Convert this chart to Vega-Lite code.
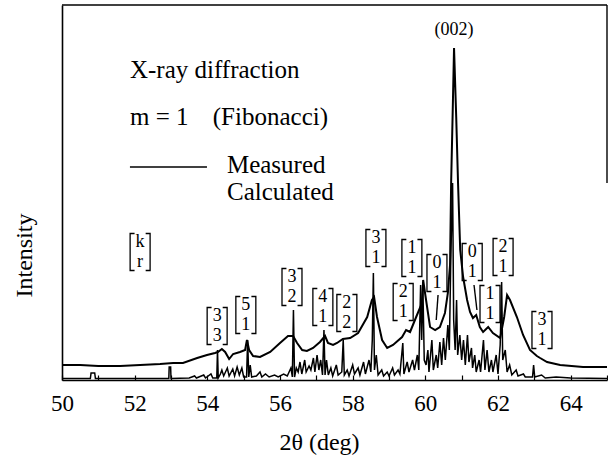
{
  "$schema": "https://vega.github.io/schema/vega-lite/v6.json",
  "width": 545,
  "height": 375,
  "autosize": "none",
  "padding": {"left": 62, "top": 5, "right": 1, "bottom": 78},
  "background": "white",
  "config": {"view": {"stroke": null}, "font": "Liberation Serif, Times New Roman, serif"},
  "datasets": {
    "measured": [
      {"x": 50.0, "y": 15}, {"x": 50.5, "y": 15}, {"x": 51.0, "y": 14}, {"x": 51.6, "y": 14},
      {"x": 52.15, "y": 15}, {"x": 52.7, "y": 16}, {"x": 53.06, "y": 17}, {"x": 53.33, "y": 17},
      {"x": 53.72, "y": 22}, {"x": 53.99, "y": 25}, {"x": 54.21, "y": 27}, {"x": 54.29, "y": 28},
      {"x": 54.4, "y": 31}, {"x": 54.49, "y": 28}, {"x": 54.6, "y": 21}, {"x": 54.71, "y": 26},
      {"x": 54.9, "y": 28}, {"x": 55.04, "y": 30}, {"x": 55.09, "y": 40}, {"x": 55.15, "y": 30},
      {"x": 55.26, "y": 24}, {"x": 55.45, "y": 23}, {"x": 55.73, "y": 28}, {"x": 56.0, "y": 37},
      {"x": 56.22, "y": 44}, {"x": 56.36, "y": 44}, {"x": 56.47, "y": 37}, {"x": 56.61, "y": 30},
      {"x": 56.74, "y": 29}, {"x": 56.91, "y": 32}, {"x": 57.1, "y": 38}, {"x": 57.24, "y": 44},
      {"x": 57.32, "y": 37}, {"x": 57.46, "y": 35}, {"x": 57.57, "y": 37}, {"x": 57.73, "y": 41},
      {"x": 57.93, "y": 42}, {"x": 58.15, "y": 47}, {"x": 58.4, "y": 63}, {"x": 58.53, "y": 80},
      {"x": 58.59, "y": 83}, {"x": 58.67, "y": 63}, {"x": 58.81, "y": 40}, {"x": 58.95, "y": 32},
      {"x": 59.11, "y": 35}, {"x": 59.36, "y": 43}, {"x": 59.47, "y": 50}, {"x": 59.58, "y": 48},
      {"x": 59.77, "y": 65}, {"x": 59.91, "y": 77}, {"x": 59.94, "y": 100}, {"x": 60.02, "y": 80},
      {"x": 60.13, "y": 53}, {"x": 60.27, "y": 50}, {"x": 60.4, "y": 53}, {"x": 60.54, "y": 67},
      {"x": 60.62, "y": 87}, {"x": 60.68, "y": 115}, {"x": 60.71, "y": 197}, {"x": 60.75, "y": 263},
      {"x": 60.79, "y": 332}, {"x": 60.85, "y": 263}, {"x": 60.9, "y": 197}, {"x": 60.96, "y": 130},
      {"x": 61.04, "y": 103}, {"x": 61.15, "y": 80}, {"x": 61.23, "y": 68}, {"x": 61.31, "y": 62},
      {"x": 61.4, "y": 65}, {"x": 61.5, "y": 53}, {"x": 61.59, "y": 48}, {"x": 61.73, "y": 53},
      {"x": 61.86, "y": 47}, {"x": 62.06, "y": 42}, {"x": 62.17, "y": 63}, {"x": 62.25, "y": 85},
      {"x": 62.33, "y": 80}, {"x": 62.52, "y": 63}, {"x": 62.69, "y": 45}, {"x": 62.88, "y": 30},
      {"x": 63.07, "y": 24}, {"x": 63.16, "y": 22}, {"x": 63.35, "y": 18}, {"x": 63.71, "y": 15},
      {"x": 64.34, "y": 13}, {"x": 65.0, "y": 13}
    ],
    "calculated": [
      {"x": 50.0, "y": 1.5}, {"x": 50.78, "y": 1.5}, {"x": 50.8, "y": 7}, {"x": 50.9, "y": 7}, {"x": 50.92, "y": 1.5},
      {"x": 52.94, "y": 1.5}, {"x": 52.95, "y": 13}, {"x": 52.99, "y": 13}, {"x": 53.0, "y": 1.5},
      {"x": 53.5, "y": 2}, {"x": 53.65, "y": 4}, {"x": 53.7, "y": 2}, {"x": 53.9, "y": 5}, {"x": 53.95, "y": 2},
      {"x": 54.1, "y": 6}, {"x": 54.15, "y": 2}, {"x": 54.26, "y": 2}, {"x": 54.28, "y": 30}, {"x": 54.3, "y": 2},
      {"x": 54.36, "y": 6}, {"x": 54.4, "y": 10}, {"x": 54.45, "y": 4}, {"x": 54.55, "y": 12}, {"x": 54.6, "y": 4},
      {"x": 54.7, "y": 11}, {"x": 54.75, "y": 4}, {"x": 54.82, "y": 13}, {"x": 54.88, "y": 5}, {"x": 54.95, "y": 12},
      {"x": 55.0, "y": 3}, {"x": 55.08, "y": 3}, {"x": 55.11, "y": 40}, {"x": 55.14, "y": 3}, {"x": 55.18, "y": 15},
      {"x": 55.22, "y": 3}, {"x": 55.35, "y": 4}, {"x": 55.45, "y": 8}, {"x": 55.5, "y": 3}, {"x": 55.6, "y": 6},
      {"x": 55.7, "y": 3}, {"x": 55.85, "y": 5}, {"x": 55.95, "y": 3}, {"x": 56.1, "y": 6}, {"x": 56.2, "y": 4},
      {"x": 56.3, "y": 12}, {"x": 56.34, "y": 3}, {"x": 56.37, "y": 70}, {"x": 56.4, "y": 3}, {"x": 56.45, "y": 12},
      {"x": 56.5, "y": 8}, {"x": 56.55, "y": 18}, {"x": 56.6, "y": 6}, {"x": 56.68, "y": 20}, {"x": 56.72, "y": 8},
      {"x": 56.8, "y": 14}, {"x": 56.85, "y": 10}, {"x": 56.92, "y": 22}, {"x": 56.96, "y": 8}, {"x": 57.02, "y": 25},
      {"x": 57.07, "y": 10}, {"x": 57.12, "y": 20}, {"x": 57.17, "y": 5}, {"x": 57.21, "y": 50}, {"x": 57.24, "y": 5},
      {"x": 57.28, "y": 20}, {"x": 57.33, "y": 5}, {"x": 57.4, "y": 12}, {"x": 57.45, "y": 4}, {"x": 57.55, "y": 15},
      {"x": 57.6, "y": 5}, {"x": 57.7, "y": 8}, {"x": 57.74, "y": 40}, {"x": 57.77, "y": 5}, {"x": 57.85, "y": 10},
      {"x": 57.9, "y": 4}, {"x": 58.0, "y": 15}, {"x": 58.05, "y": 6}, {"x": 58.15, "y": 12}, {"x": 58.2, "y": 5},
      {"x": 58.3, "y": 18}, {"x": 58.35, "y": 6}, {"x": 58.45, "y": 20}, {"x": 58.5, "y": 8}, {"x": 58.54, "y": 40},
      {"x": 58.57, "y": 107}, {"x": 58.6, "y": 10}, {"x": 58.65, "y": 25}, {"x": 58.7, "y": 5}, {"x": 58.8, "y": 10},
      {"x": 58.85, "y": 4}, {"x": 58.95, "y": 8}, {"x": 59.0, "y": 4}, {"x": 59.1, "y": 12}, {"x": 59.15, "y": 5},
      {"x": 59.25, "y": 10}, {"x": 59.3, "y": 6}, {"x": 59.38, "y": 37}, {"x": 59.41, "y": 6}, {"x": 59.5, "y": 18},
      {"x": 59.55, "y": 8}, {"x": 59.65, "y": 20}, {"x": 59.7, "y": 10}, {"x": 59.78, "y": 25}, {"x": 59.82, "y": 10},
      {"x": 59.87, "y": 95}, {"x": 59.9, "y": 40}, {"x": 59.93, "y": 98}, {"x": 59.97, "y": 20}, {"x": 60.02, "y": 15},
      {"x": 60.07, "y": 30}, {"x": 60.1, "y": 8}, {"x": 60.18, "y": 40}, {"x": 60.22, "y": 10}, {"x": 60.3, "y": 25},
      {"x": 60.34, "y": 12}, {"x": 60.4, "y": 38}, {"x": 60.45, "y": 15}, {"x": 60.5, "y": 42}, {"x": 60.55, "y": 20},
      {"x": 60.62, "y": 55}, {"x": 60.66, "y": 30}, {"x": 60.7, "y": 120}, {"x": 60.75, "y": 197}, {"x": 60.78, "y": 60},
      {"x": 60.82, "y": 30}, {"x": 60.86, "y": 80}, {"x": 60.89, "y": 25}, {"x": 60.95, "y": 45}, {"x": 61.0, "y": 20},
      {"x": 61.05, "y": 40}, {"x": 61.1, "y": 15}, {"x": 61.16, "y": 45}, {"x": 61.2, "y": 18}, {"x": 61.27, "y": 32},
      {"x": 61.3, "y": 12}, {"x": 61.36, "y": 25}, {"x": 61.4, "y": 8}, {"x": 61.48, "y": 20}, {"x": 61.52, "y": 8},
      {"x": 61.6, "y": 40}, {"x": 61.64, "y": 10}, {"x": 61.7, "y": 30}, {"x": 61.75, "y": 8}, {"x": 61.82, "y": 20},
      {"x": 61.86, "y": 8}, {"x": 61.95, "y": 25}, {"x": 62.0, "y": 6}, {"x": 62.06, "y": 35}, {"x": 62.1, "y": 98},
      {"x": 62.13, "y": 20}, {"x": 62.2, "y": 30}, {"x": 62.25, "y": 8}, {"x": 62.32, "y": 15}, {"x": 62.38, "y": 5},
      {"x": 62.5, "y": 10}, {"x": 62.55, "y": 4}, {"x": 62.7, "y": 6}, {"x": 62.75, "y": 3}, {"x": 62.95, "y": 3},
      {"x": 62.98, "y": 15}, {"x": 63.01, "y": 3}, {"x": 63.2, "y": 5}, {"x": 63.3, "y": 2}, {"x": 63.6, "y": 3},
      {"x": 64.0, "y": 2}, {"x": 65.0, "y": 1.5}
    ],
    "notes": [
      {"x": 51.87, "y": 302, "t": "X-ray diffraction"},
      {"x": 51.87, "y": 255, "t": "m = 1"},
      {"x": 54.15, "y": 255, "t": "(Fibonacci)"},
      {"x": 54.54, "y": 207, "t": "Measured"},
      {"x": 54.54, "y": 180, "t": "Calculated"}
    ],
    "peakname": [
      {"x": 60.79, "y": 345, "t": "(002)"}
    ],
    "peaks": [
      {"x": 52.15, "y": 128, "t": "k\nr"},
      {"x": 54.27, "y": 54, "t": "3\n3"},
      {"x": 55.06, "y": 65, "t": "5\n1"},
      {"x": 56.33, "y": 93, "t": "3\n2"},
      {"x": 57.18, "y": 73, "t": "4\n1"},
      {"x": 57.84, "y": 67, "t": "2\n2"},
      {"x": 58.64, "y": 132, "t": "3\n1"},
      {"x": 59.39, "y": 78, "t": "2\n1"},
      {"x": 59.63, "y": 122, "t": "1\n1"},
      {"x": 60.32, "y": 107, "t": "0\n1"},
      {"x": 61.29, "y": 118, "t": "0\n1"},
      {"x": 61.78, "y": 76, "t": "1\n1"},
      {"x": 62.14, "y": 123, "t": "2\n1"},
      {"x": 63.21, "y": 50, "t": "3\n1"}
    ],
    "segments": [
      {"x": 60.35, "y": 85, "x2": 60.3, "y2": 60},
      {"x": 61.34, "y": 95, "x2": 61.42, "y2": 70},
      {"x": 51.87, "y": 213, "x2": 53.99, "y2": 213},
      {"x": 50, "y": 375, "x2": 65, "y2": 375},
      {"x": 65, "y": 197, "x2": 65, "y2": 375}
    ]
  },
  "encoding": {
    "x": {
      "field": "x", "type": "quantitative", "title": "2θ (deg)",
      "scale": {"domain": [50, 65], "nice": false, "zero": false},
      "axis": {
        "values": [50, 51, 52, 53, 54, 55, 56, 57, 58, 59, 60, 61, 62, 63, 64, 65],
        "labelExpr": "datum.value % 2 == 0 && datum.value < 65 ? datum.label : ''",
        "grid": false, "tickSize": -5, "tickColor": "black", "tickWidth": 1.2,
        "domainColor": "black", "domainWidth": 1.6,
        "labelFont": "Liberation Serif, Times New Roman, serif", "labelFontSize": 23, "labelColor": "black",
        "labelBaseline": "alphabetic", "labelPadding": 35, "labelOverlap": false, "labelFlush": false,
        "titleFont": "Liberation Serif, Times New Roman, serif", "titleFontSize": 24, "titleFontWeight": "normal", "titleColor": "black",
        "titleX": 257, "titleY": 69, "titleBaseline": "alphabetic"
      }
    },
    "y": {
      "field": "y", "type": "quantitative", "title": "Intensity",
      "scale": {"domain": [0, 375], "nice": false},
      "axis": {
        "ticks": false, "labels": false, "grid": false,
        "domainColor": "black", "domainWidth": 1.6,
        "titleFont": "Liberation Serif, Times New Roman, serif", "titleFontSize": 24, "titleFontWeight": "normal", "titleColor": "black",
        "titleX": -31, "titleY": 250, "titleAngle": -90, "titleBaseline": "alphabetic", "titleAlign": "center"
      }
    }
  },
  "layer": [
    {"data": {"name": "measured"}, "mark": {"type": "line", "color": "black", "strokeWidth": 2}},
    {"data": {"name": "calculated"}, "mark": {"type": "line", "color": "black", "strokeWidth": 1.5}},
    {"data": {"name": "segments"}, "mark": {"type": "rule", "color": "black", "strokeWidth": 1.4},
     "encoding": {"x2": {"field": "x2"}, "y2": {"field": "y2"}}},
    {"data": {"name": "notes"}, "mark": {"type": "text", "align": "left", "baseline": "alphabetic", "fontSize": 25, "font": "Liberation Serif, Times New Roman, serif", "color": "black"},
     "encoding": {"text": {"field": "t"}}},
    {"data": {"name": "peakname"}, "mark": {"type": "text", "align": "center", "baseline": "alphabetic", "fontSize": 18, "font": "Liberation Serif, Times New Roman, serif", "color": "black"},
     "encoding": {"text": {"field": "t"}}},
    {"data": {"name": "peaks"}, "mark": {"type": "point", "shape": "M -0.3 -1 L -0.54 -1 L -0.54 1 L -0.3 1 M 0.3 -1 L 0.54 -1 L 0.54 1 L 0.3 1", "size": 1369, "filled": false, "stroke": "black", "strokeWidth": 1.3, "opacity": 1}},
    {"data": {"name": "peaks"}, "mark": {"type": "text", "align": "center", "baseline": "middle", "dy": -10, "fontSize": 18, "lineHeight": 20, "lineBreak": "\n", "font": "Liberation Serif, Times New Roman, serif", "color": "black"},
     "encoding": {"text": {"field": "t"}}}
  ]
}
